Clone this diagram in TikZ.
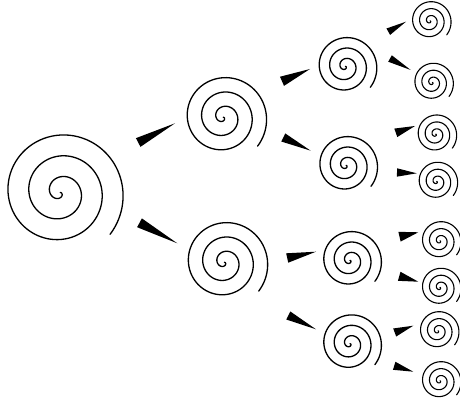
\documentclass[tikz,border=0pt]{standalone}
\usetikzlibrary{calc}
\tikzset{
  spiralline/.style={line width=1.3pt, black, line cap=round},
  spiral/.pic={\draw[spiralline] plot[domain=0:1120,samples=260,smooth]
      ({(\x/360)*#1*cos(\x)},{(\x/360)*#1*sin(\x)});},
  wedgeconn/.style={to path={($(\tikztostart)!#1!90:(\tikztotarget)$)
      -- ($(\tikztostart)!#1!-90:(\tikztotarget)$) -- (\tikztotarget) -- cycle}}
}
\begin{document}
\begin{tikzpicture}[x=1pt,y=-1pt]
\useasboundingbox (0,0) rectangle (460,398);
% spiral centres
\coordinate (r)  at (60.3,192.5);
\coordinate (c1) at (223.3,117.3);
\coordinate (c2) at (224.4,262.3);
\coordinate (g1) at (345.4,66.4);
\coordinate (g2) at (346.1,165.4);
\coordinate (g3) at (350,260.4);
\coordinate (g4) at (350,343.7);
\coordinate (h1) at (430.1,20.9);
\coordinate (h2) at (432.4,82.5);
\coordinate (h3) at (435.7,134.2);
\coordinate (h4) at (436.7,181.5);
\coordinate (h5) at (440,240.9);
\coordinate (h6) at (440,287.5);
\coordinate (h7) at (438,330.9);
\coordinate (h8) at (440,380.9);
% spirals
\pic at (r) {spiral=20.9};
\foreach \n in {c1,c2} {\pic at (\n) {spiral=14.4};}
\foreach \n in {g1,g2,g3,g4} {\pic at (\n) {spiral=10.45};}
\foreach \n in {h1,h2,h3,h4,h5,h6,h7,h8} {\pic[spiralline/.append style={line width=1.1pt}] at (\n) {spiral=6.97};}
% wedge connector ends
\coordinate (r-c1a) at (138.2,142.5);  \coordinate (r-c1b) at (175,123.3);
\coordinate (r-c2a) at (139.5,222.8);  \coordinate (r-c2b) at (177.3,243.3);
\coordinate (c1-g1a) at (282,81.3);    \coordinate (c1-g1b) at (310,69);
\coordinate (c1-g2a) at (283.3,137.5); \coordinate (c1-g2b) at (310.7,150.7);
\coordinate (c2-g3a) at (287.2,258);   \coordinate (c2-g3b) at (316,251.7);
\coordinate (c2-g4a) at (288.3,315.5); \coordinate (c2-g4b) at (316,329.3);
\coordinate (g1-h1a) at (388.3,31.7);  \coordinate (g1-h1b) at (406,21.7);
\coordinate (g1-h2a) at (390,58.5);    \coordinate (g1-h2b) at (410.7,70);
\coordinate (g2-h3a) at (395.8,132.8); \coordinate (g2-h3b) at (415,126);
\coordinate (g2-h4a) at (397,172.5);   \coordinate (g2-h4b) at (416.7,173.3);
\coordinate (g3-h5a) at (399.5,236.7); \coordinate (g3-h5b) at (418.3,232.3);
\coordinate (g3-h6a) at (399.2,276.3); \coordinate (g3-h6b) at (418.3,281.7);
\coordinate (g4-h7a) at (394.7,332.5); \coordinate (g4-h7b) at (413.3,325.7);
\coordinate (g4-h8a) at (394.2,365.8); \coordinate (g4-h8b) at (413.3,371.7);
% wedges
\fill (r-c1a) to[wedgeconn=4.9pt] (r-c1b);
\fill (r-c2a) to[wedgeconn=5pt] (r-c2b);
\fill (c1-g1a) to[wedgeconn=5pt] (c1-g1b);
\fill (c1-g2a) to[wedgeconn=4.5pt] (c1-g2b);
\fill (c2-g3a) to[wedgeconn=4.8pt] (c2-g3b);
\fill (c2-g4a) to[wedgeconn=4.5pt] (c2-g4b);
\fill (g1-h1a) to[wedgeconn=3.7pt] (g1-h1b);
\fill (g1-h2a) to[wedgeconn=3.7pt] (g1-h2b);
\fill (g2-h3a) to[wedgeconn=4.5pt] (g2-h3b);
\fill (g2-h4a) to[wedgeconn=4.2pt] (g2-h4b);
\fill (g3-h5a) to[wedgeconn=5pt] (g3-h5b);
\fill (g3-h6a) to[wedgeconn=4.7pt] (g3-h6b);
\fill (g4-h7a) to[wedgeconn=4.3pt] (g4-h7b);
\fill (g4-h8a) to[wedgeconn=4.2pt] (g4-h8b);
\end{tikzpicture}
\end{document}
